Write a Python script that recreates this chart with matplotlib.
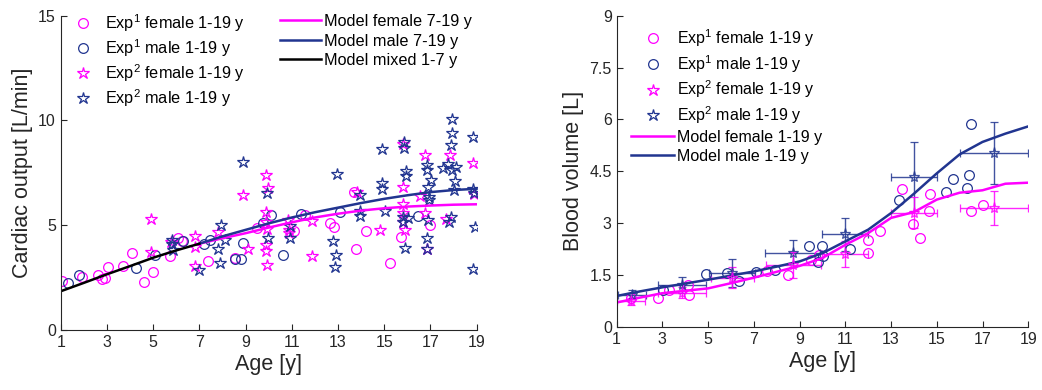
import numpy as np
import matplotlib
matplotlib.use("Agg")
import matplotlib.pyplot as plt

plt.rcParams['font.family'] = ['Liberation Sans', 'DejaVu Sans']
plt.rcParams['mathtext.default'] = 'regular'

MAG = '#FF00FF'
BLU = '#213590'

# ---- left panel: cardiac output ----
co_f1_x = [1.04, 1.91, 2.63, 2.78, 2.92, 3.06, 3.68, 4.1, 4.62, 4.98, 5.73, 6.09, 6.24, 7.36, 8.55,
           9.48, 11.1, 11.58, 12.66, 12.83, 13.67, 13.77, 14.2, 15.26, 15.72, 16.99]
co_f1_y = [2.36, 2.52, 2.63, 2.42, 2.47, 3.03, 3.06, 3.69, 2.28, 2.79, 3.54, 4.38, 4.27, 3.31, 3.45,
           4.86, 4.74, 5.49, 5.13, 4.9, 6.6, 3.86, 4.74, 3.19, 4.46, 5.0]

co_m1_x = [1.33, 1.79, 4.25, 5.08, 6.28, 7.22, 7.45, 8.55, 8.8, 8.88, 9.77, 10.09, 10.6, 11.4, 13.1, 16.45]
co_m1_y = [2.25, 2.64, 2.95, 3.56, 4.25, 4.12, 4.3, 3.39, 3.4, 4.15, 5.1, 5.5, 3.6, 5.53, 5.62, 5.45]

co_f2_x = [4.9, 4.9, 5.77, 6.8, 6.81, 6.8, 7.82, 8.9, 9.1, 9.89, 9.96, 9.87, 9.87, 9.92, 9.87, 9.87, 9.92,
           10.83, 10.86, 10.86, 11.87, 11.87, 13.8, 14.82, 15.83, 15.8, 15.83, 15.83, 15.83, 15.9,
           16.55, 16.77, 16.77, 16.87, 17.68, 17.85, 18.84, 18.9]
co_f2_y = [5.3, 3.7, 4.2, 4.49, 3.98, 3.07, 4.7, 6.45, 3.86, 7.41, 6.77, 5.65, 5.17, 4.81, 4.06, 3.77, 3.1,
           5.26, 4.78, 4.62, 5.18, 3.55, 6.58, 4.78, 8.86, 6.82, 6.0, 5.57, 5.17, 4.78,
           6.4, 8.36, 5.6, 3.87, 5.3, 8.36, 7.99, 6.5]

co_m2_x = [5.8, 5.8, 5.87, 6.99, 7.87, 7.82, 7.93, 8.11, 8.88, 9.92, 9.96, 10.9, 10.93, 12.95, 12.76,
           12.9, 12.87, 13.96, 13.93, 13.93, 14.9, 14.9, 14.9, 15.04, 15.86, 15.86, 15.95, 15.95,
           15.83, 15.83, 16.02, 15.9, 16.84, 16.84, 17.02, 16.91, 16.95, 16.95, 16.89, 16.87, 16.87,
           17.56, 17.74, 17.93, 18.11, 17.95, 17.93, 17.9, 18.07, 18.0, 17.9, 17.78, 18.86, 18.86,
           18.9, 18.93, 18.84]
co_m2_y = [4.3, 4.11, 3.82, 2.87, 3.19, 3.86, 5.02, 4.3, 8.04, 6.53, 4.38, 4.97, 4.41, 7.45, 4.27,
           3.58, 3.0, 6.45, 5.7, 5.45, 8.65, 7.0, 6.74, 5.7, 8.95, 8.68, 7.6, 7.35,
           5.41, 5.17, 5.34, 3.9, 7.88, 7.64, 7.17, 6.82, 6.37, 6.21, 5.26, 4.38, 3.87,
           7.72, 7.93, 7.64, 7.8, 10.06, 9.4, 8.84, 7.09, 6.66, 5.41, 5.15, 9.2, 6.74,
           6.53, 4.9, 2.91]

mix_age = [1, 2, 3, 4, 5, 6, 7]
mix_co = [1.85, 2.25, 2.66, 3.05, 3.45, 3.8, 4.12]
mod_age = [7, 8, 9, 10, 11, 12, 13, 14, 15, 16, 17, 18, 19]
mod_co_f = [4.12, 4.38, 4.62, 4.89, 5.14, 5.37, 5.55, 5.7, 5.81, 5.89, 5.94, 5.98, 6.0]
mod_co_m = [4.12, 4.47, 4.78, 5.09, 5.37, 5.62, 5.84, 6.06, 6.26, 6.43, 6.58, 6.68, 6.74]

# ---- right panel: blood volume ----
bv_f1_x = [1.62, 2.82, 3.31, 4.1, 4.16, 7.59, 8.5, 9.5, 9.86, 12.0, 12.0, 12.5, 13.49, 13.97, 14.26,
           14.66, 14.7, 16.49, 17.0]
bv_f1_y = [0.84, 0.83, 1.07, 1.21, 0.91, 1.62, 1.49, 1.94, 2.08, 2.5, 2.13, 2.78, 3.99, 2.98, 2.57,
           3.34, 3.85, 3.34, 3.51]

bv_m1_x = [3.04, 4.91, 5.81, 6.33, 7.08, 7.93, 9.43, 9.82, 10.0, 10.04, 11.19, 13.33, 15.4, 15.7,
           16.34, 16.43, 16.5]
bv_m1_y = [1.06, 1.53, 1.56, 1.32, 1.59, 1.65, 2.34, 1.86, 2.33, 2.05, 2.25, 3.68, 3.9, 4.29,
           4.02, 4.38, 5.86]

bv_m2_x = [1.67, 3.84, 6.06, 8.7, 10.99, 14.0, 17.5]
bv_m2_y = [0.93, 1.21, 1.55, 2.13, 2.67, 4.34, 5.04]
bv_m2_xerr = [0.6, 1.05, 1.0, 1.2, 1.0, 1.0, 1.5]
bv_m2_yerr = [0.13, 0.22, 0.41, 0.39, 0.47, 1.0, 0.9]

bv_f2_x = [1.63, 3.84, 6.06, 8.73, 10.99, 14.0, 17.5]
bv_f2_y = [0.73, 0.99, 1.42, 1.79, 2.11, 3.3, 3.44]
bv_f2_xerr = [0.6, 1.05, 0.95, 1.2, 1.0, 1.0, 1.5]
bv_f2_yerr = [0.1, 0.17, 0.3, 0.38, 0.38, 0.45, 0.5]

bv_age = list(range(1, 20))
mod_bv_m = [0.89, 1.02, 1.14, 1.25, 1.36, 1.48, 1.6, 1.74, 1.89, 2.13, 2.47, 2.81, 3.29, 3.85,
            4.44, 4.99, 5.35, 5.59, 5.8]
mod_bv_f = [0.70, 0.84, 0.97, 1.04, 1.11, 1.26, 1.42, 1.59, 1.76, 1.99, 2.37, 2.71, 3.15, 3.32,
            3.68, 3.88, 3.95, 4.14, 4.17]

fig = plt.figure(figsize=(10.42, 3.9), dpi=100)
ax1 = fig.add_axes([0.0583, 0.1538, 0.3992, 0.806])
ax2 = fig.add_axes([0.5918, 0.1623, 0.395, 0.797])

circ = dict(marker='o', ls='none', mfc='none', ms=7, mew=0.9)
star = dict(marker='*', ls='none', mfc='none', ms=9, mew=0.9)

h1 = ax1.plot(co_f1_x, co_f1_y, color=MAG, label='Exp$^1$ female 1-19 y', **circ)[0]
h2 = ax1.plot(co_m1_x, co_m1_y, color=BLU, label='Exp$^1$ male 1-19 y', **circ)[0]
h3 = ax1.plot(co_f2_x, co_f2_y, color=MAG, label='Exp$^2$ female 1-19 y', **star)[0]
h4 = ax1.plot(co_m2_x, co_m2_y, color=BLU, label='Exp$^2$ male 1-19 y', **star)[0]
l1 = ax1.plot(mod_age, mod_co_f, color=MAG, lw=1.8, label='Model female 7-19 y')[0]
l2 = ax1.plot(mod_age, mod_co_m, color=BLU, lw=1.8, label='Model male 7-19 y')[0]
l3 = ax1.plot(mix_age, mix_co, color='black', lw=1.8, label='Model mixed 1-7 y')[0]

leg1 = ax1.legend(handles=[h1, h2, h3, h4], loc='upper left', bbox_to_anchor=(0.0, 1.058),
                  frameon=False, fontsize=11.7, handlelength=1.0, handletextpad=0.8,
                  labelspacing=0.2)
ax1.add_artist(leg1)
ax1.legend(handles=[l1, l2, l3], loc='upper left', bbox_to_anchor=(0.493, 1.052),
           frameon=False, fontsize=11.7, handlelength=2.5, handletextpad=0.2,
           labelspacing=0.28)

ax1.set_xlim(1, 19)
ax1.set_ylim(0, 15)
ax1.set_xticks(range(1, 20, 2))
ax1.set_yticks([0, 5, 10, 15])
ax1.set_xlabel('Age [y]', fontsize=15.5, labelpad=3)
ax1.set_ylabel('Cardiac output [L/min]', fontsize=15.5, labelpad=4)

# right
ax2.errorbar(bv_m2_x, bv_m2_y, xerr=bv_m2_xerr, yerr=bv_m2_yerr, fmt='*', color=BLU, mfc='none',
             ms=8, mew=0.9, elinewidth=1.0, capsize=3, capthick=1.0, alpha=0.85, zorder=2)
ax2.errorbar(bv_f2_x, bv_f2_y, xerr=bv_f2_xerr, yerr=bv_f2_yerr, fmt='*', color=MAG, mfc='none',
             ms=8, mew=0.9, elinewidth=1.0, capsize=3, capthick=1.0, alpha=0.85, zorder=2)
g1 = ax2.plot(bv_f1_x, bv_f1_y, color=MAG, label='Exp$^1$ female 1-19 y', **circ)[0]
g2 = ax2.plot(bv_m1_x, bv_m1_y, color=BLU, label='Exp$^1$ male 1-19 y', **circ)[0]
g3 = ax2.plot([], [], color=MAG, label='Exp$^2$ female 1-19 y', **star)[0]
g4 = ax2.plot([], [], color=BLU, label='Exp$^2$ male 1-19 y', **star)[0]
g5 = ax2.plot(bv_age, mod_bv_f, color=MAG, lw=1.8, label='Model female 1-19 y')[0]
g6 = ax2.plot(bv_age, mod_bv_m, color=BLU, lw=1.8, label='Model male 1-19 y')[0]
ax2.legend(handles=[g1, g2, g3, g4, g5, g6], loc='upper left', bbox_to_anchor=(0.0, 1.01),
           frameon=False, fontsize=11.5, handlelength=2.7, handletextpad=0.2,
           labelspacing=0.25)

ax2.set_xlim(1, 19)
ax2.set_ylim(0, 9)
ax2.set_xticks(range(1, 20, 2))
ax2.set_yticks([0, 1.5, 3, 4.5, 6, 7.5, 9])
ax2.set_yticklabels(['0', '1.5', '3', '4.5', '6', '7.5', '9'])
ax2.set_xlabel('Age [y]', fontsize=15.5, labelpad=3)
ax2.set_ylabel('Blood volume [L]', fontsize=15.5, labelpad=4)

for ax in (ax1, ax2):
    ax.spines['top'].set_visible(False)
    ax.spines['right'].set_visible(False)
    ax.tick_params(direction='in', labelsize=11.5, length=4.5, color='#262626', labelcolor='#262626')
    for sp in ax.spines.values():
        sp.set_color('#262626')
    ax.xaxis.label.set_color('#262626')
    ax.yaxis.label.set_color('#262626')

fig.savefig('out.png', dpi=100)
